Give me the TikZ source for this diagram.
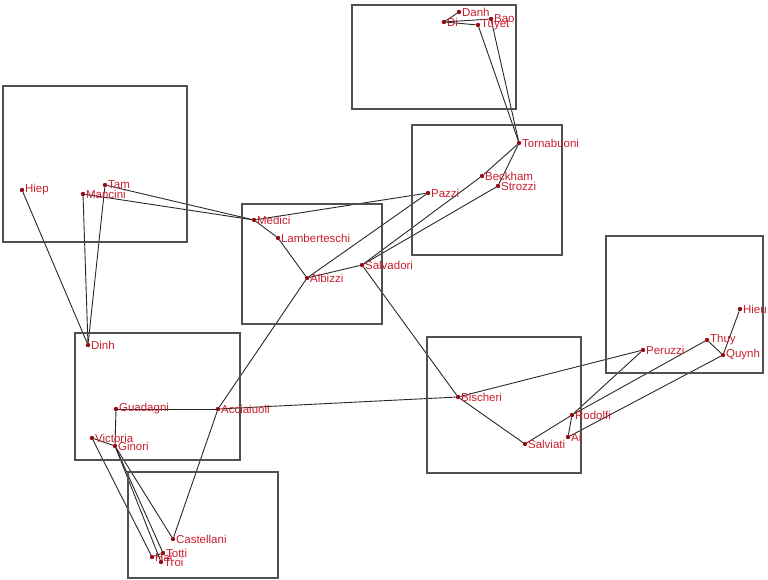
\documentclass[tikz,border=0pt]{standalone}
\usepackage{fontspec}
\setmainfont{Liberation Sans}
\usetikzlibrary{backgrounds}
\definecolor{lblred}{RGB}{200,30,45}
\definecolor{dotred}{RGB}{150,10,20}
\definecolor{boxgray}{RGB}{80,80,80}
\definecolor{edgegray}{RGB}{40,40,40}
\tikzset{
  pt/.style={circle,fill=dotred,inner sep=0pt,minimum size=4.4pt},
  lbl/.style={text=lblred,inner sep=0.5pt,font=\fontsize{11.5}{13}\selectfont},
  grp/.style={draw=boxgray,line width=1.2pt},
  edge/.style={draw=edgegray,line width=0.9pt},
}
\newcommand{\person}[4]{\node[pt,label={[lbl,label distance=0pt]right:#4}] (#1) at (#2,#3) {};}
\begin{document}
\begin{tikzpicture}[x=1pt,y=-1pt]
\useasboundingbox (0,0) rectangle (768,580);
% group boxes
\draw[grp] (352,5) rectangle (516,109);
\draw[grp] (3,86) rectangle (187,242);
\draw[grp] (242,204) rectangle (382,324);
\draw[grp] (412,125) rectangle (562,255);
\draw[grp] (606,236) rectangle (763,373);
\draw[grp] (427,337) rectangle (581,473);
\draw[grp] (75,333) rectangle (240,460);
\draw[grp] (128,472) rectangle (278,578);
% people
\person{danh}{459}{12}{Danh}
\person{di}{444}{22}{Di}
\person{tuyet}{478}{25}{Tuyet}
\person{bao}{491}{19}{Bao}
\person{torn}{519}{143}{Tornabuoni}
\person{beck}{482}{176}{Beckham}
\person{stro}{498}{186}{Strozzi}
\person{pazz}{428}{193}{Pazzi}
\person{medi}{254}{220}{Medici}
\person{lamb}{278}{238}{Lamberteschi}
\person{albi}{307}{278}{Albizzi}
\person{salv}{362}{265}{Salvadori}
\person{hiep}{22}{190}{Hiep}
\person{tam}{105}{185}{Tam}
\person{manc}{83}{194}{Mancini}
\person{dinh}{88}{345}{Dinh}
\person{guad}{116}{409}{Guadagni}
\person{acci}{218}{409}{Acciaiuoli}
\person{vict}{92}{438}{Victoria}
\person{gino}{115}{446}{Ginori}
\person{cast}{173}{539}{Castellani}
\person{hai}{152}{557}{Hai}
\person{totti}{163}{553}{Totti}
\person{troi}{161}{562}{Troi}
\person{bisc}{458}{397}{Bischeri}
\person{salvi}{525}{444}{Salviati}
\person{rodo}{572}{415}{Rodolfi}
\person{ai}{568}{437}{Ai}
\person{peru}{643}{350}{Peruzzi}
\person{thuy}{707}{340}{Thuy}
\person{quyn}{723}{355}{Quynh}
\person{hieu}{740}{309}{Hieu}
% ties
\begin{pgfonlayer}{background}
\draw[edge] (danh) -- (di);
\draw[edge] (di) -- (tuyet);
\draw[edge] (di) -- (bao);
\draw[edge] (tuyet) -- (torn);
\draw[edge] (bao) -- (torn);
\draw[edge] (torn) -- (beck);
\draw[edge] (torn) -- (stro);
\draw[edge] (salv) -- (beck);
\draw[edge] (salv) -- (stro);
\draw[edge] (albi) -- (pazz);
\draw[edge] (medi) -- (pazz);
\draw[edge] (medi) -- (lamb);
\draw[edge] (lamb) -- (albi);
\draw[edge] (albi) -- (salv);
\draw[edge] (tam) -- (medi);
\draw[edge] (manc) -- (medi);
\draw[edge] (hiep) -- (dinh);
\draw[edge] (manc) -- (dinh);
\draw[edge] (tam) -- (dinh);
\draw[edge] (albi) -- (acci);
\draw[edge] (acci) -- (cast);
\draw[edge] (guad) -- (acci);
\draw[edge] (acci) -- (bisc);
\draw[edge] (guad) -- (gino);
\draw[edge] (vict) -- (gino);
\draw[edge] (vict) -- (hai);
\draw[edge] (gino) -- (cast);
\draw[edge] (gino) -- (totti);
\draw[edge] (gino) -- (troi);
\draw[edge] (hai) -- (totti);
\draw[edge] (salv) -- (bisc);
\draw[edge] (bisc) -- (peru);
\draw[edge] (bisc) -- (salvi);
\draw[edge] (salvi) -- (rodo);
\draw[edge] (rodo) -- (ai);
\draw[edge] (rodo) -- (peru);
\draw[edge] (rodo) -- (thuy);
\draw[edge] (ai) -- (quyn);
\draw[edge] (thuy) -- (quyn);
\draw[edge] (hieu) -- (quyn);
\end{pgfonlayer}
\end{tikzpicture}
\end{document}
